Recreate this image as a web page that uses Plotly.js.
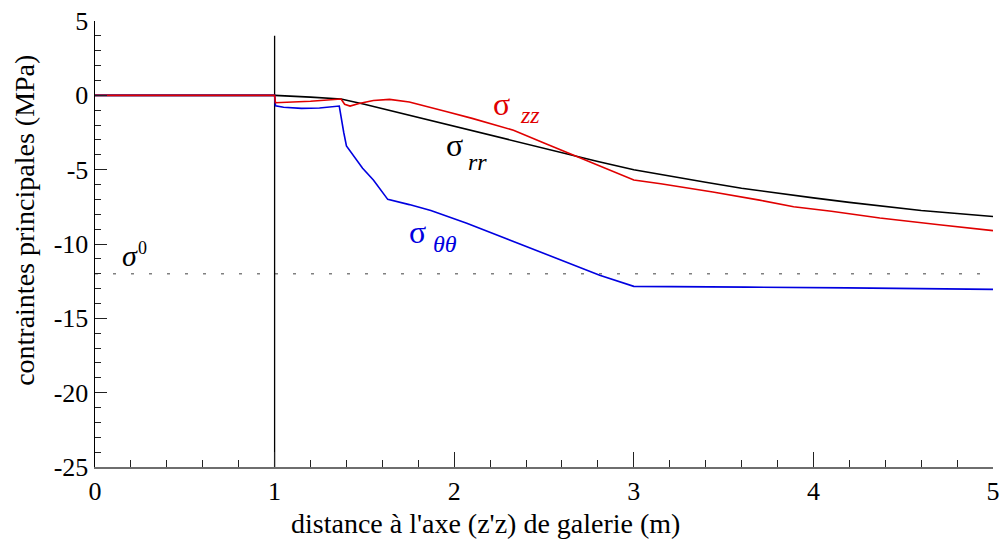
<!DOCTYPE html>
<html>
<head>
<meta charset="utf-8">
<script src="https://cdn.plot.ly/plotly-3.0.1.min.js"></script>
<style>html,body{margin:0;padding:0;background:#fff;}#chart{width:1002px;height:545px;}</style>
</head>
<body>
<div id="chart"></div>
<script>
// sigma_rr (black)
const rrX = [0, 1, 1.2, 1.37, 1.5, 1.6, 1.8, 2.0, 2.2, 2.4, 2.6, 2.8, 3.0, 3.2, 3.4, 3.6, 3.8, 4.0, 4.2, 4.4, 4.6, 4.8, 5.0];
const rrY = [0, 0, -0.12, -0.25, -0.6, -0.9, -1.5, -2.05, -2.65, -3.25, -3.85, -4.45, -5.0, -5.45, -5.85, -6.25, -6.6, -6.9, -7.2, -7.5, -7.75, -7.95, -8.15];
// sigma_zz (red)
const zzX = [0, 1, 1.005, 1.2, 1.37, 1.39, 1.42, 1.47, 1.55, 1.64, 1.75, 1.87, 1.96, 2.1, 2.2, 2.33, 2.5, 2.6, 2.7, 2.8, 2.9, 3.0, 3.15, 3.44, 3.7, 3.89, 4.1, 4.37, 4.7, 5.0];
const zzY = [0, 0, -0.5, -0.4, -0.25, -0.6, -0.72, -0.55, -0.35, -0.27, -0.45, -0.85, -1.1, -1.55, -1.9, -2.35, -3.2, -3.7, -4.2, -4.7, -5.2, -5.7, -5.95, -6.5, -7.05, -7.5, -7.8, -8.25, -8.7, -9.1];
// sigma_thetatheta (blue)
const ttX = [0, 1, 1.005, 1.05, 1.15, 1.25, 1.36, 1.37, 1.385, 1.40, 1.44, 1.49, 1.55, 1.63, 1.75, 1.87, 2.07, 2.25, 2.44, 2.63, 2.81, 3.0, 3.3, 3.63, 4.19, 5.0];
const ttY = [0, 0, -0.7, -0.8, -0.88, -0.85, -0.72, -1.5, -2.5, -3.4, -4.1, -4.9, -5.7, -7.0, -7.35, -7.75, -8.6, -9.45, -10.35, -11.25, -12.1, -12.85, -12.85, -12.9, -12.95, -13.05];
// reference lines
const wallX = [1, 1];
const wallY = [-25, 4];
const sigma0X = [0, 5];
const sigma0Y = [-12, -12];

const xTicks = [0, 1, 2, 3, 4, 5];
const yTicks = [5, 0, -5, -10, -15, -20, -25];

const serif = 'Liberation Serif';

const traces = [
  {x: sigma0X, y: sigma0Y, mode: 'lines', line: {color: '#808080', width: 1.5, dash: '3px,15px'}, hoverinfo: 'skip'},
  {x: wallX, y: wallY, mode: 'lines', line: {color: '#000', width: 1.3}, hoverinfo: 'skip'},
  {x: rrX, y: rrY, mode: 'lines', name: 'σrr', line: {color: '#000000', width: 1.6}},
  {x: ttX, y: ttY, mode: 'lines', name: 'σθθ', line: {color: '#0000e0', width: 1.6}},
  {x: zzX, y: zzY, mode: 'lines', name: 'σzz', line: {color: '#e00000', width: 1.6}}
];

function ann(x, y, text, color, size, italic) {
  return {x: x, y: y, xref: 'x', yref: 'y', text: italic ? '<i>' + text + '</i>' : text,
    showarrow: false, font: {family: serif, size: size, color: color}};
}

const layout = {
  width: 1002, height: 545,
  margin: {l: 95, r: 9, t: 21, b: 78},
  paper_bgcolor: '#fff', plot_bgcolor: '#fff',
  showlegend: false,
  font: {family: serif, color: '#000'},
  xaxis: {
    range: [0, 5], tickvals: xTicks, ticktext: xTicks.map(String),
    showgrid: false, zeroline: false, showline: true, linecolor: '#6e6e6e', linewidth: 1.5,
    ticks: 'inside', ticklen: 15, tickcolor: '#222', tickwidth: 1,
    minor: {dtick: 0.2, ticks: 'inside', ticklen: 7, tickcolor: '#222', tickwidth: 1, showgrid: false},
    tickfont: {family: serif, size: 26, color: '#000'},
    automargin: false
  },
  yaxis: {
    range: [-25, 5], tickvals: yTicks, ticktext: yTicks.map(String),
    showgrid: false, zeroline: false, showline: true, linecolor: '#000', linewidth: 1.5,
    ticks: 'inside', ticklen: 12, tickcolor: '#222', tickwidth: 1,
    minor: {dtick: 1, ticks: 'inside', ticklen: 6, tickcolor: '#222', tickwidth: 1, showgrid: false},
    tickfont: {family: serif, size: 26, color: '#000'},
    automargin: false
  },
  annotations: [
    {xref: 'paper', yref: 'paper', x: 0.4354, y: -0.1256, text: "distance à l'axe (z'z) de galerie (m)",
      showarrow: false, xanchor: 'center', yanchor: 'middle', font: {family: serif, size: 28, color: '#000'}},
    {xref: 'paper', yref: 'paper', x: -0.078, y: 0.554, text: 'contraintes principales (MPa)', textangle: -90,
      showarrow: false, xanchor: 'center', yanchor: 'middle', font: {family: serif, size: 28, color: '#000'}},
    ann(2.266, -0.6, 'σ', '#e00000', 32, false),
    ann(2.422, -1.33, 'zz', '#e00000', 24, true),
    ann(2.004, -3.35, 'σ', '#000', 32, false),
    ann(2.127, -4.49, 'rr', '#000', 24, true),
    ann(1.793, -9.2, 'σ', '#0000e0', 32, false),
    ann(1.949, -10.0, 'θθ', '#0000e0', 24, true),
    ann(0.195, -10.8, 'σ', '#000', 30, true),
    ann(0.262, -10.27, '0', '#000', 18, false)
  ]
};

Plotly.newPlot('chart', traces, layout, {staticPlot: true, displayModeBar: false});
</script>
</body>
</html>
